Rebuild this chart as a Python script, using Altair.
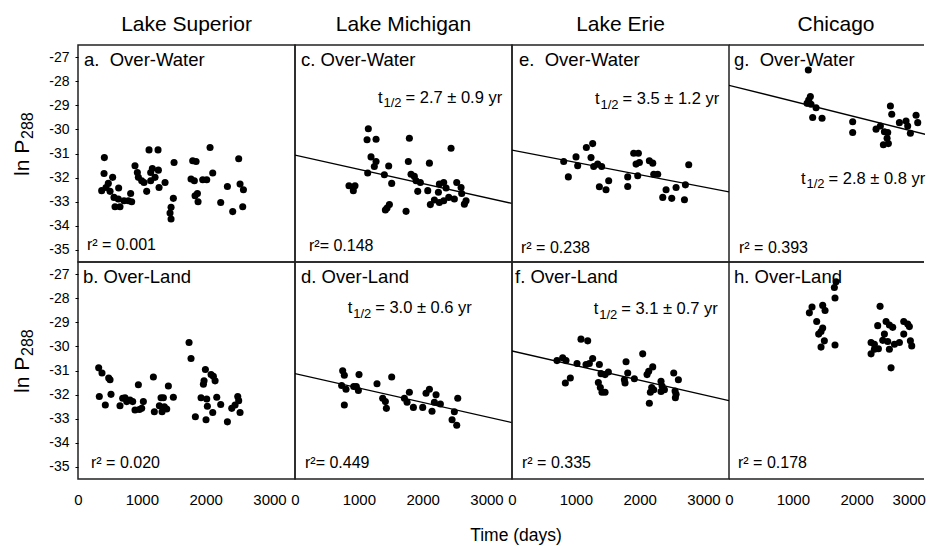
import altair as alt
import pandas as pd

FONT = "Liberation Sans"
FRAME = "#222222"

column_titles = ["Lake Superior", "Lake Michigan", "Lake Erie", "Chicago"]
x_ticks = [0, 1000, 2000, 3000]
y_ticks = [-27, -28, -29, -30, -31, -32, -33, -34, -35]

# (days, ln P288)
a_points = [(413,-31.17),(408,-31.83),(371,-32.54),(439,-32.41),(475,-32.24),(543,-31.99),(502,-32.57),(564,-32.82),(637,-32.43),(580,-33.21),(658,-33.21),(632,-32.89),(721,-32.96),(789,-32.96),(825,-32.66),(841,-33.00),(893,-31.51),(930,-31.79),(946,-31.99),(998,-32.13),(1034,-32.20),(1076,-32.57),(1113,-30.85),(1254,-30.85),(1139,-31.79),(1165,-31.62),(1207,-31.99),(1259,-31.69),(1139,-32.13),(1270,-32.41),(1364,-32.20),(1505,-31.37),(1494,-32.86),(1458,-33.23),(1442,-33.47),(1458,-33.72),(1797,-31.30),(1850,-31.33),(1771,-32.06),(1823,-32.13),(1871,-32.66),(1834,-32.75),(1881,-33.00),(1954,-32.09),(2017,-32.09),(2069,-30.75),(2111,-31.81),(2236,-33.03),(2341,-32.37),(2424,-33.41),(2518,-31.22),(2539,-32.27),(2592,-32.50),(2581,-33.21)]
b_points = [(324,-30.89),(376,-31.10),(334,-32.08),(428,-32.43),(481,-31.31),(502,-31.38),(517,-31.99),(658,-32.46),(700,-32.15),(737,-32.13),(763,-32.29),(815,-32.22),(857,-32.29),(893,-32.64),(961,-32.62),(946,-31.59),(1024,-32.29),(998,-32.57),(1181,-31.27),(1196,-32.71),(1275,-32.46),(1301,-32.13),(1338,-32.13),(1317,-32.71),(1353,-32.50),(1390,-32.60),(1416,-31.64),(1494,-32.11),(1740,-29.84),(1771,-30.50),(1839,-32.92),(1928,-32.13),(1965,-31.57),(1975,-31.43),(1996,-30.96),(2017,-32.18),(2027,-32.48),(2006,-33.04),(2085,-31.17),(2121,-31.24),(2148,-31.43),(2111,-32.74),(2174,-32.11),(2236,-32.41),(2341,-33.13),(2409,-32.57),(2461,-32.43),(2503,-32.08),(2518,-32.25),(2539,-32.74)]
c_points = [(1149,-29.97),(1129,-30.43),(1270,-30.41),(1191,-31.14),(1270,-31.33),(1243,-31.54),(1139,-31.81),(1468,-31.52),(1400,-31.88),(1515,-32.24),(846,-32.34),(940,-32.34),(914,-32.54),(1792,-30.37),(1776,-31.33),(1818,-31.86),(1870,-31.95),(1897,-32.13),(1964,-32.20),(1923,-32.57),(2106,-31.40),(2080,-32.54),(2445,-30.78),(2262,-32.27),(2330,-32.20),(2367,-32.43),(2247,-32.61),(2534,-32.20),(2602,-32.41),(2612,-32.66),(2184,-32.93),(2121,-33.12),(2262,-33.03),(2330,-32.96),(2409,-32.82),(2497,-32.89),(2680,-32.96),(2654,-33.10),(1479,-33.12),(1442,-33.26),(1416,-33.34),(1740,-33.40)]
d_points = [(747,-31.01),(773,-31.20),(731,-31.62),(799,-31.78),(773,-32.43),(920,-31.66),(961,-31.66),(993,-31.83),(1003,-31.17),(1285,-31.55),(1374,-32.15),(1416,-32.29),(1432,-32.57),(1515,-31.27),(1714,-32.15),(1756,-32.32),(1792,-31.90),(1855,-32.53),(2001,-32.53),(2053,-31.94),(2106,-31.78),(2147,-32.69),(2184,-32.32),(2210,-32.01),(2278,-32.39),(2461,-33.04),(2497,-32.71),(2534,-33.27),(2550,-32.15)]
e_points = [(810,-31.33),(883,-31.97),(1003,-31.14),(1029,-31.51),(1165,-30.75),(1264,-30.59),(1238,-31.17),(1280,-31.54),(1342,-31.44),(1405,-31.54),(1369,-32.38),(1473,-32.50),(1515,-32.13),(1813,-31.97),(1813,-32.37),(1907,-30.99),(1980,-30.99),(1944,-31.44),(1996,-31.37),(1970,-31.92),(2152,-31.30),(2205,-31.40),(2221,-31.86),(2283,-31.86),(2414,-32.50),(2362,-32.82),(2503,-32.86),(2571,-32.41),(2717,-32.30),(2702,-32.92),(2769,-31.47)]
f_points = [(705,-30.59),(794,-30.47),(846,-30.59),(836,-31.52),(914,-31.31),(1019,-30.71),(1081,-29.70),(1186,-29.77),(1160,-30.75),(1264,-30.50),(1212,-30.71),(1369,-30.75),(1395,-31.13),(1353,-31.50),(1384,-31.71),(1410,-31.90),(1458,-31.17),(1510,-31.06),(1458,-31.90),(1761,-31.38),(1771,-31.52),(1787,-30.64),(1813,-31.10),(1917,-31.34),(2048,-30.31),(2116,-31.17),(2142,-31.03),(2205,-30.85),(2189,-31.71),(2168,-31.90),(2152,-32.36),(2221,-31.80),(2335,-31.45),(2351,-31.64),(2335,-31.87),(2388,-31.80),(2534,-31.10),(2607,-31.38),(2555,-31.85),(2560,-32.13),(2571,-31.99)]
g_points = [(1243,-27.54),(1275,-28.64),(1249,-28.78),(1223,-28.92),(1285,-28.96),(1364,-29.10),(1311,-29.51),(1458,-29.54),(1938,-29.68),(1938,-30.13),(2304,-29.99),(2372,-29.86),(2435,-30.10),(2487,-30.13),(2477,-30.37),(2419,-30.64),(2497,-30.59),(2529,-29.03),(2550,-29.37),(2670,-29.72),(2774,-29.65),(2800,-29.86),(2842,-30.16),(2931,-29.41),(2957,-29.72)]
h_points = [(1259,-28.61),(1301,-28.37),(1374,-28.97),(1468,-28.30),(1505,-28.51),(1468,-29.24),(1405,-29.49),(1442,-29.38),(1494,-29.77),(1442,-30.03),(1661,-29.94),(1661,-27.99),(1651,-27.56),(1677,-27.32),(2367,-28.34),(2330,-29.14),(2226,-29.84),(2226,-30.31),(2278,-30.12),(2341,-30.10),(2278,-29.91),(2409,-29.75),(2435,-29.49),(2461,-28.97),(2513,-29.11),(2565,-29.21),(2487,-29.80),(2513,-30.12),(2592,-29.91),(2670,-29.84),(2539,-30.89),(2738,-28.97),(2800,-29.07),(2826,-29.18),(2738,-29.49),(2842,-29.77),(2863,-29.98)]

# fitted lines: ln P at day 0 and at day 3400
fit_days = [0, 3400]
fit_c = [-31.07, -33.07]
fit_d = [-31.13, -33.16]
fit_e = [-30.86, -32.59]
fit_f = [-30.19, -32.25]
fit_g = [-28.17, -30.42]

NB = "\u00a0"
panel_labels = {"a": "a." + NB + " Over-Water", "b": "b. Over-Land", "c": "c. Over-Water", "d": "d. Over-Land",
                "e": "e." + NB + " Over-Water", "f": "f. Over-Land", "g": "g." + NB + " Over-Water", "h": "h. Over-Land"}
r2_labels = {"a": "r\u00b2 = 0.001", "b": "r\u00b2 = 0.020", "c": "r\u00b2= 0.148", "d": "r\u00b2= 0.449",
             "e": "r\u00b2 = 0.238", "f": "r\u00b2 = 0.335", "g": "r\u00b2 = 0.393", "h": "r\u00b2 = 0.178"}
halflife_labels = {"c": "= 2.7 \u00b1 0.9 yr", "d": "= 3.0 \u00b1 0.6 yr", "e": "= 3.5 \u00b1 1.2 yr",
                   "f": "= 3.1 \u00b1 0.7 yr", "g": "= 2.8 \u00b1 0.8 yr"}

points = {"a": a_points, "b": b_points, "c": c_points, "d": d_points,
          "e": e_points, "f": f_points, "g": g_points, "h": h_points}
fits = {"c": fit_c, "d": fit_d, "e": fit_e, "f": fit_f, "g": fit_g}

# layout (pixels)
W, W_LAST, H = 217, 196, 217
XMAX = 3400
label_x = {"a": 6, "b": 5, "c": 6, "d": 6, "e": 7, "f": 3, "g": 5, "h": 5}
r2_x = {"a": 9, "b": 13, "c": 14, "d": 10, "e": 9, "f": 10, "g": 10, "h": 9}
r2_up = {"a": 12.5, "b": 10.7, "c": 11.5, "d": 11.3, "e": 9.5, "f": 10.7, "g": 9.5, "h": 10.7}
t_pos = {"c": (83, 57.7), "d": (52.7, 51.3), "e": (83, 59), "f": (81.7, 52.3), "g": (72, 138.7)}
title_x = [108.5, 108.5, 108.5, 107]

dummy = pd.DataFrame({"n": [0]})


def txt(s, x, y, size, align="left", angle=0):
    kw = dict(text=s, align=align, baseline="alphabetic", fontSize=size, font=FONT, color="black")
    if angle:
        kw["angle"] = angle
    return alt.Chart(dummy).mark_text(**kw).encode(x=alt.value(x), y=alt.value(y))


def panel(key, row, col):
    w = W if col < 3 else W_LAST
    xmax = XMAX * w / W
    xscale = alt.Scale(domain=[0, xmax], nice=False, zero=False)
    yscale = alt.Scale(domain=[-35.5, -26.5], nice=False, zero=False)
    if row == 1:
        ax = dict(values=x_ticks, format="d", labelFontSize=15, labelPadding=13, ticks=False,
                  domain=False, grid=False, labelFlush=False, title=None, labelColor="black",
                  labelFont=FONT)
        if col == 3:
            ax["labelAlign"] = {"condition": {"test": "datum.value == 3000", "value": "right"}, "value": "center"}
            ax["labelOffset"] = {"condition": {"test": "datum.value == 3000", "value": 5}, "value": 0}
        xaxis = alt.Axis(**ax)
    else:
        xaxis = None
    if col == 0:
        yaxis = alt.Axis(values=y_ticks, labelExpr="'' + datum.value", ticks=True, tickSize=3,
                         tickColor="black", tickWidth=1, labelPadding=6, labelFontSize=14, domain=False,
                         grid=False, labelFlush=False, title=None, labelColor="black", labelFont=FONT)
    else:
        yaxis = None

    pts = pd.DataFrame(points[key], columns=["days", "lnp"])
    layers = [alt.Chart(pts).mark_circle(size=50, color="black", opacity=1).encode(
        x=alt.X("days:Q", scale=xscale, axis=xaxis),
        y=alt.Y("lnp:Q", scale=yscale, axis=yaxis))]

    if key in fits:
        fdf = pd.DataFrame({"days": fit_days, "lnp": fits[key]})
        layers.append(alt.Chart(fdf).mark_line(color="black", strokeWidth=1.3, clip=True).encode(
            x=alt.X("days:Q", scale=xscale, axis=xaxis),
            y=alt.Y("lnp:Q", scale=yscale, axis=yaxis)))
        tx, ty = t_pos[key]
        layers.append(txt("t", tx, ty, 16.5))
        layers.append(txt("1/2", tx + 5.5, ty + 4.5, 13))
        layers.append(txt(halflife_labels[key], tx + 27.5, ty, 16.5))

    layers.append(txt(panel_labels[key], label_x[key], 21, 18.5))
    layers.append(txt(r2_labels[key], r2_x[key], H - r2_up[key], 16))

    if col == 0:
        layers.append(txt("ln P", -49, 131, 21, angle=270))
        layers.append(txt("288", -45, 94, 16, angle=270))
    if key == "d":
        layers.append(txt("Time (days)", 221, H + 62, 17.5, align="center"))
    if row == 0:
        layers.append(txt(column_titles[col], title_x[col], -14, 21, align="center"))

    props = dict(width=w, height=H)
    if col == 3:
        for yy in (0, H):
            layers.append(alt.Chart(dummy).mark_rule(color=FRAME, strokeWidth=1.5).encode(
                x=alt.value(0), x2=alt.value(w - 1), y=alt.value(yy)))
        props["view"] = alt.ViewBackground(stroke=None)
    return alt.layer(*layers).properties(**props)


order = [("a", 0, 0), ("c", 0, 1), ("e", 0, 2), ("g", 0, 3),
         ("b", 1, 0), ("d", 1, 1), ("f", 1, 2), ("h", 1, 3)]
cells = [panel(k, r, c) for k, r, c in order]

chart = alt.concat(*cells, columns=4, spacing=0, bounds="flush").properties(
    padding={"left": 3, "top": 5, "right": 0, "bottom": 0},
    background="white",
).configure(font=FONT).configure_view(stroke=FRAME, strokeWidth=1.5)

chart.save("out.html", embed_options={"renderer": "svg", "actions": False})
